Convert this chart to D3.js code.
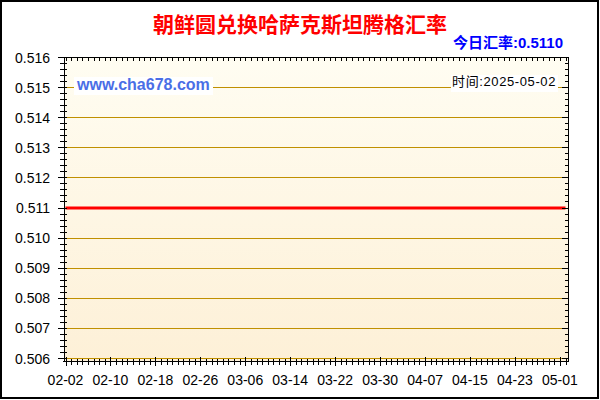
<!DOCTYPE html>
<html><head><meta charset="utf-8">
<script src="https://cdn.jsdelivr.net/npm/d3@7"></script>
<style>body{margin:0;background:#fff}svg{display:block}</style>
</head><body><svg id="c" width="600" height="400"></svg>
<script>
const title = "朝鲜圆兑换哈萨克斯坦腾格汇率";
const todayLabel = "今日汇率:0.5110";
const timeLabel = "时间:2025-05-02";
const siteLabel = "www.cha678.com";
const dates = [
"2025-02-02","2025-02-03","2025-02-04","2025-02-05","2025-02-06","2025-02-07","2025-02-08","2025-02-09","2025-02-10",
"2025-02-11","2025-02-12","2025-02-13","2025-02-14","2025-02-15","2025-02-16","2025-02-17","2025-02-18","2025-02-19",
"2025-02-20","2025-02-21","2025-02-22","2025-02-23","2025-02-24","2025-02-25","2025-02-26","2025-02-27","2025-02-28",
"2025-03-01","2025-03-02","2025-03-03","2025-03-04","2025-03-05","2025-03-06","2025-03-07","2025-03-08","2025-03-09",
"2025-03-10","2025-03-11","2025-03-12","2025-03-13","2025-03-14","2025-03-15","2025-03-16","2025-03-17","2025-03-18",
"2025-03-19","2025-03-20","2025-03-21","2025-03-22","2025-03-23","2025-03-24","2025-03-25","2025-03-26","2025-03-27",
"2025-03-28","2025-03-29","2025-03-30","2025-03-31","2025-04-01","2025-04-02","2025-04-03","2025-04-04","2025-04-05",
"2025-04-06","2025-04-07","2025-04-08","2025-04-09","2025-04-10","2025-04-11","2025-04-12","2025-04-13","2025-04-14",
"2025-04-15","2025-04-16","2025-04-17","2025-04-18","2025-04-19","2025-04-20","2025-04-21","2025-04-22","2025-04-23",
"2025-04-24","2025-04-25","2025-04-26","2025-04-27","2025-04-28","2025-04-29","2025-04-30","2025-05-01","2025-05-02"];
const rates = [
0.511,0.511,0.511,0.511,0.511,0.511,0.511,0.511,0.511,0.511,
0.511,0.511,0.511,0.511,0.511,0.511,0.511,0.511,0.511,0.511,
0.511,0.511,0.511,0.511,0.511,0.511,0.511,0.511,0.511,0.511,
0.511,0.511,0.511,0.511,0.511,0.511,0.511,0.511,0.511,0.511,
0.511,0.511,0.511,0.511,0.511,0.511,0.511,0.511,0.511,0.511,
0.511,0.511,0.511,0.511,0.511,0.511,0.511,0.511,0.511,0.511,
0.511,0.511,0.511,0.511,0.511,0.511,0.511,0.511,0.511,0.511,
0.511,0.511,0.511,0.511,0.511,0.511,0.511,0.511,0.511,0.511,
0.511,0.511,0.511,0.511,0.511,0.511,0.511,0.511,0.511,0.511];
const xTickLabels = ["02-02","02-10","02-18","02-26","03-06","03-14","03-22","03-30","04-07","04-15","04-23","05-01"];
const yTickValues = [0.506,0.507,0.508,0.509,0.510,0.511,0.512,0.513,0.514,0.515,0.516];

const parse = d3.timeParse("%Y-%m-%d");
const data = dates.map((d,i)=>({date:parse(d), v:rates[i]}));
const svg = d3.select("#c");
const L=64, R=568, T=57.5, B=361;

const x = d3.scaleTime().domain([data[0].date, data[data.length-1].date]).range([65.5,565.5]);
const y = d3.scaleLinear().domain([0.506,0.516]).range([358.5,57.5]);

// outer border
svg.append("rect").attr("x",1).attr("y",1).attr("width",597).attr("height",397)
  .attr("fill","#fff").attr("stroke","#000").attr("stroke-width",2);

// gradient
const defs = svg.append("defs");
const g = defs.append("linearGradient").attr("id","bg").attr("x1",0).attr("y1",0).attr("x2",0).attr("y2",1);
g.append("stop").attr("offset","0%").attr("stop-color","#fffdf2");
g.append("stop").attr("offset","100%").attr("stop-color","#fdf0d7");
svg.append("rect").attr("x",L).attr("y",T).attr("width",R-L).attr("height",B-T).attr("fill","url(#bg)");

// grid lines
svg.append("g").selectAll("line").data(yTickValues).join("line")
  .attr("x1",L).attr("x2",R)
  .attr("y1",d=>Math.floor(y(d))+0.5).attr("y2",d=>Math.floor(y(d))+0.5)
  .attr("stroke","#c09000").attr("stroke-width",1);

// label boxes
svg.append("rect").attr("x",74).attr("y",77).attr("width",139).attr("height",18).attr("fill","#fff");
svg.append("text").attr("x",77).attr("y",90).attr("font-family","Liberation Sans, Arial, sans-serif")
  .attr("font-weight","bold").attr("font-size",16).attr("fill","#4a6ee6").text(siteLabel);
svg.append("rect").attr("x",451).attr("y",75).attr("width",107).attr("height",17).attr("fill","#fff");
svg.append("text").attr("x",556).attr("y",86).attr("text-anchor","end")
  .attr("font-family","Liberation Sans, 'Noto Sans CJK SC', sans-serif").attr("letter-spacing","0.6")
  .attr("font-size",13).attr("fill","#000").text(timeLabel);

// data line
const line = d3.line().x(d=>x(d.date)).y(d=>y(d.v));
svg.append("path").datum(data).attr("d",line).attr("fill","none").attr("stroke","#ff0000").attr("stroke-width",3);

// axes frame
const ax = svg.append("g").attr("stroke","#000").attr("stroke-width",1).attr("shape-rendering","crispEdges");
ax.append("line").attr("x1",L).attr("x2",L).attr("y1",T).attr("y2",B+1);
ax.append("line").attr("x1",R).attr("x2",R).attr("y1",T).attr("y2",B+1);
ax.append("line").attr("x1",L).attr("x2",R+1).attr("y1",T).attr("y2",T);
ax.append("line").attr("x1",L-1).attr("x2",R+1).attr("y1",B).attr("y2",B);

const minorY = y.ticks(50);
const majorSet = new Set(yTickValues.map(v=>v.toFixed(4)));
minorY.forEach(v=>{
  const yy = Math.floor(y(v))+0.5;
  const major = majorSet.has(v.toFixed(4));
  ax.append("line").attr("x1",major?L-6:L-4).attr("x2",L+3).attr("y1",yy).attr("y2",yy);
  ax.append("line").attr("x1",major?R-6:R-3).attr("x2",R).attr("y1",yy).attr("y2",yy);
});
const days = d3.timeDay.range(x.domain()[0], d3.timeDay.offset(x.domain()[1],1));
const majorX = new Set(xTickLabels);
const fmt = d3.timeFormat("%m-%d");
days.forEach(d=>{
  const xx = Math.round(x(d))+0.5;
  const major = majorX.has(fmt(d));
  ax.append("line").attr("x1",xx).attr("x2",xx).attr("y1",major?B-4:B-2).attr("y2",major?B+5:B+4);
  ax.append("line").attr("x1",xx).attr("x2",xx).attr("y1",T).attr("y2",T+3);
});

// y labels
svg.append("g").selectAll("text").data(yTickValues).join("text")
  .attr("x",50).attr("y",d=>y(d)+5).attr("text-anchor","end")
  .attr("font-family","Liberation Sans, Arial, sans-serif").attr("font-size",14).attr("fill","#000")
  .text(d=>d.toFixed(3));
// x labels
svg.append("g").selectAll("text").data(xTickLabels).join("text")
  .attr("x",d=>x(parse("2025-"+d))).attr("y",385).attr("text-anchor","middle")
  .attr("font-family","Liberation Sans, Arial, sans-serif").attr("font-size",14).attr("fill","#000")
  .text(d=>d);

// title
svg.append("text").attr("x",300).attr("y",32).attr("text-anchor","middle")
  .attr("font-family","'Noto Sans CJK SC', sans-serif").attr("font-weight","bold").attr("font-size",21)
  .attr("fill","#ff0000").text(title);
svg.append("text").attr("x",563).attr("y",48).attr("text-anchor","end")
  .attr("font-family","Liberation Sans, 'Noto Sans CJK SC', sans-serif").attr("font-weight","bold").attr("font-size",15)
  .attr("fill","#0000ff").text(todayLabel);
</script></body></html>
